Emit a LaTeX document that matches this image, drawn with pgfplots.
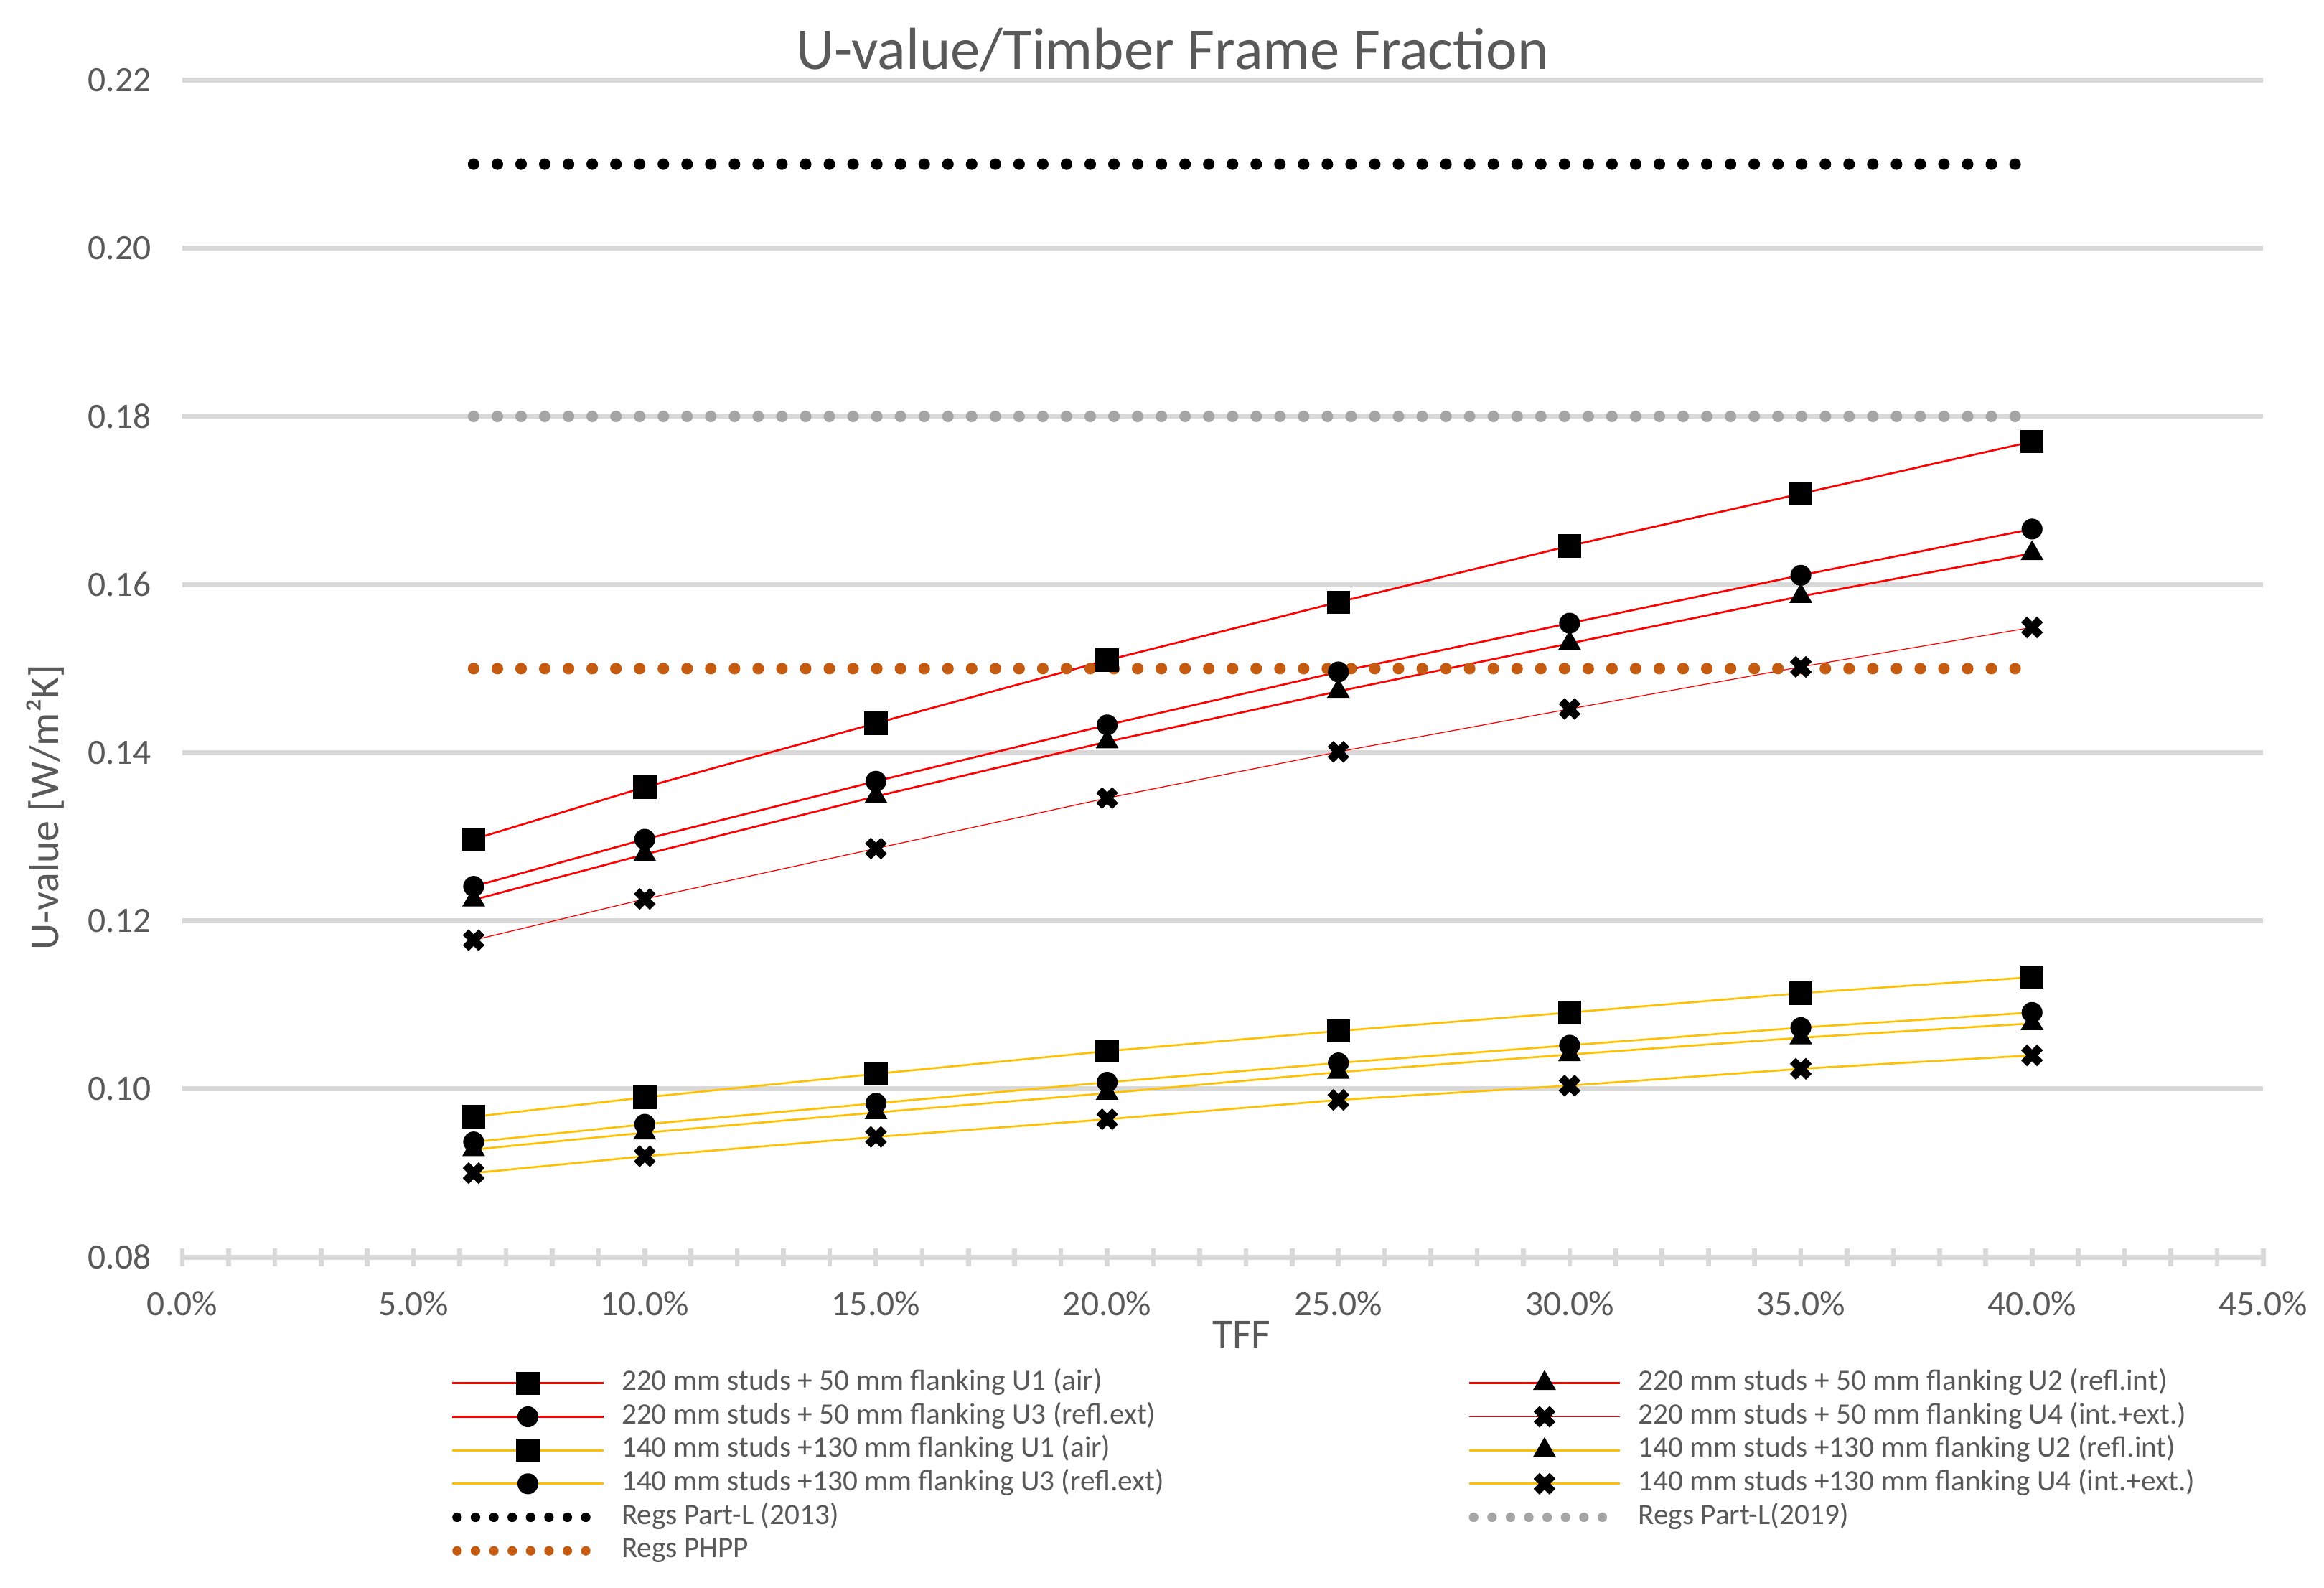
\documentclass[border=0pt]{standalone}
\usepackage{pgfplots}
\pgfplotsset{compat=1.18}
\usepackage{fontspec}
\setmainfont{Carlito}
\definecolor{txt}{HTML}{595959}
\definecolor{grd}{HTML}{D9D9D9}
\definecolor{myred}{HTML}{FF0000}
\definecolor{myyel}{HTML}{FFC000}
\definecolor{myora}{HTML}{C55A11}
\definecolor{mygray}{HTML}{A5A5A5}
\pgfplotsset{
  dotlegend/.style={legend image code/.code={\draw[##1, line width=3.2pt, dash pattern=on 0pt off 6.2pt] (1.6pt,0pt) -- (51pt,0pt);}},
  reg/.style={line width=3.9pt, line cap=round, dash pattern=on 0pt off 8pt, dotlegend},
}
\begin{document}
\begin{tikzpicture}
\useasboundingbox (0,0) rectangle (784pt,535.5pt);
\begin{axis}[
  at={(61.5pt,111.5pt)}, anchor=south west,
  scale only axis, width=702pt, height=397pt,
  xmin=0, xmax=45, ymin=0.08, ymax=0.22,
  axis x line*=bottom, axis y line*=left,
  y axis line style={draw=none},
  x axis line style={grd, line width=1.6pt},
  xtick={0,5,10,15,20,25,30,35,40,45},
  xticklabels={0.0\%,5.0\%,10.0\%,15.0\%,20.0\%,25.0\%,30.0\%,35.0\%,40.0\%,45.0\%},
  minor x tick num=4,
  xtick align=center,
  major tick length=6pt, minor tick length=6pt,
  x tick style={grd, line width=1.6pt},
  ytick={0.08,0.10,0.12,0.14,0.16,0.18,0.20,0.22},
  yticklabels={0.08,0.10,0.12,0.14,0.16,0.18,0.20,0.22},
  y tick style={draw=none},
  ymajorgrids, major grid style={grd, line width=1.7pt},
  tick label style={font=\fontsize{12}{14}\selectfont, text=txt},
  yticklabel style={anchor=east, xshift=-7pt},
  xticklabel style={anchor=north, yshift=-5pt},
  title={U-value/Timber Frame Fraction},
  title style={at={(axis description cs:0.4758,1.0106)}, anchor=base, yshift=-6.5pt, font=\fontsize{20}{24}\selectfont, text=txt},
  xlabel={TFF},
  xlabel style={at={(axis description cs:0.509,-0.0768)}, anchor=base, font=\fontsize{14}{17}\selectfont, text=txt},
  ylabel={U-value [W/m²K]},
  ylabel style={at={(axis description cs:-0.0595,0.3822)}, anchor=base, font=\fontsize{14}{17}\selectfont, text=txt},
  legend columns=2,
  legend cell align=left,
  legend style={at={(axis description cs:0.1293,-0.0929)}, anchor=north west, draw=none, fill=none,
    font=\fontsize{10}{12}\selectfont, text=txt, inner sep=0pt, outer sep=0pt, row sep=0pt,
    /tikz/every odd column/.append style={column sep=3.5pt},
    /tikz/every even column/.append style={column sep=101.5pt},
    nodes={inner sep=1pt, text height=7pt, text depth=2.3pt}},
  legend image code/.code={\draw[mark repeat=2,mark phase=2,#1] plot coordinates {(0pt,0pt) (25.5pt,0pt) (51pt,0pt)};},
  clip=false,
]
% red series (220 mm studs + 50 mm flanking)
\addplot[myred, line width=0.65pt, mark=square*, mark size=3.6pt, mark options={black, solid}] coordinates {
 (6.3,0.1297) (10,0.1359) (15,0.1435) (20,0.1510) (25,0.1579) (30,0.1646) (35,0.1708) (40,0.1770)};
\addlegendentry{220 mm studs + 50 mm flanking U1 (air)}
\addplot[myred, line width=0.65pt, mark=triangle*, mark size=3.8pt, mark options={black, solid}] coordinates {
 (6.3,0.1225) (10,0.1279) (15,0.1348) (20,0.1413) (25,0.1473) (30,0.1530) (35,0.1586) (40,0.1637)};
\addlegendentry{220 mm studs + 50 mm flanking U2 (refl.int)}
\addplot[myred, line width=0.65pt, mark=*, mark size=3.2pt, mark options={black, solid}] coordinates {
 (6.3,0.1241) (10,0.1297) (15,0.1366) (20,0.1433) (25,0.1496) (30,0.1554) (35,0.1611) (40,0.1666)};
\addlegendentry{220 mm studs + 50 mm flanking U3 (refl.ext)}
\addplot[myred, line width=0.3pt, mark=x, mark size=3.8pt, mark options={black, solid, line width=2.8pt}] coordinates {
 (6.3,0.1177) (10,0.1226) (15,0.1286) (20,0.1346) (25,0.1401) (30,0.1452) (35,0.1502) (40,0.1549)};
\addlegendentry{220 mm studs + 50 mm flanking U4 (int.+ext.)}
% yellow series (140 mm studs + 130 mm flanking)
\addplot[myyel, line width=0.65pt, mark=square*, mark size=3.6pt, mark options={black, solid}] coordinates {
 (6.3,0.0967) (10,0.0990) (15,0.1018) (20,0.1045) (25,0.1069) (30,0.1091) (35,0.1114) (40,0.1133)};
\addlegendentry{140 mm studs +130 mm flanking U1 (air)}
\addplot[myyel, line width=0.65pt, mark=triangle*, mark size=3.8pt, mark options={black, solid}] coordinates {
 (6.3,0.0928) (10,0.0948) (15,0.0972) (20,0.0995) (25,0.1020) (30,0.1041) (35,0.1061) (40,0.1078)};
\addlegendentry{140 mm studs +130 mm flanking U2 (refl.int)}
\addplot[myyel, line width=0.65pt, mark=*, mark size=3.2pt, mark options={black, solid}] coordinates {
 (6.3,0.0937) (10,0.0958) (15,0.0983) (20,0.1008) (25,0.1031) (30,0.1052) (35,0.1073) (40,0.1091)};
\addlegendentry{140 mm studs +130 mm flanking U3 (refl.ext)}
\addplot[myyel, line width=0.65pt, mark=x, mark size=3.8pt, mark options={black, solid, line width=2.8pt}] coordinates {
 (6.3,0.0900) (10,0.0920) (15,0.0943) (20,0.0964) (25,0.0987) (30,0.1004) (35,0.1024) (40,0.1040)};
\addlegendentry{140 mm studs +130 mm flanking U4 (int.+ext.)}
% regulation lines
\addplot[black, reg] coordinates {(6.3,0.21) (40,0.21)};
\addlegendentry{Regs Part-L (2013)}
\addplot[mygray, reg] coordinates {(6.3,0.18) (40,0.18)};
\addlegendentry{Regs Part-L(2019)}
\addplot[myora, reg] coordinates {(6.3,0.15) (40,0.15)};
\addlegendentry{Regs PHPP}
\end{axis}
\end{tikzpicture}
\end{document}
